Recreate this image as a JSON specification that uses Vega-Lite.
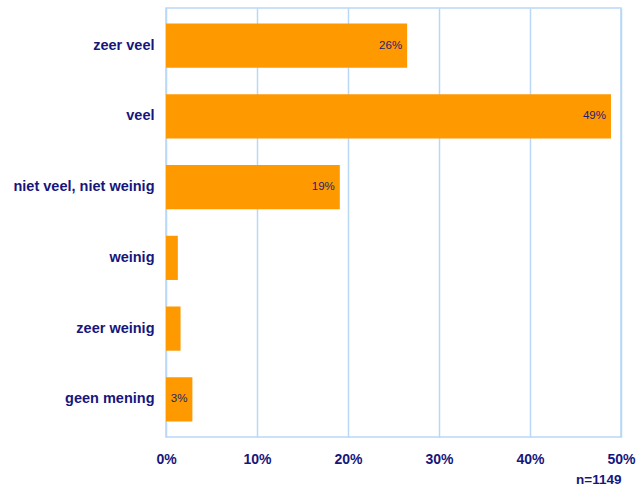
{
  "$schema": "https://vega.github.io/schema/vega-lite/v6.json",
  "autosize": "none",
  "width": 455,
  "height": 429,
  "padding": {"left": 166, "top": 8, "right": 16, "bottom": 49},
  "background": "white",
  "config": {
    "font": "Liberation Sans",
    "view": {"stroke": "#b9d8f7", "strokeWidth": 1.5}
  },
  "data": {
    "values": [
      {"cat": "zeer veel", "value": 0.265, "label": "26%"},
      {"cat": "veel", "value": 0.489, "label": "49%"},
      {"cat": "niet veel, niet weinig", "value": 0.191, "label": "19%"},
      {"cat": "weinig", "value": 0.013, "label": ""},
      {"cat": "zeer weinig", "value": 0.016, "label": ""},
      {"cat": "geen mening", "value": 0.029, "label": "3%"}
    ]
  },
  "encoding": {
    "y": {
      "field": "cat",
      "type": "nominal",
      "sort": null,
      "scale": {"paddingInner": 0.375, "paddingOuter": 0.22},
      "axis": {
        "title": null,
        "ticks": false,
        "domain": false,
        "grid": false,
        "labelFont": "Liberation Sans",
        "labelFontSize": 14.5,
        "labelFontWeight": "bold",
        "labelColor": "#16167c",
        "labelPadding": 12
      }
    },
    "x": {
      "field": "value",
      "type": "quantitative",
      "scale": {"domain": [0, 0.5], "nice": false},
      "axis": {
        "values": [0, 0.1, 0.2, 0.3, 0.4, 0.5],
        "format": ".0%",
        "title": "n=1149",
        "titleAnchor": "end",
        "titleAlign": "right",
        "titleFont": "Liberation Sans",
        "titleFontSize": 13.5,
        "titleFontWeight": "bold",
        "titleColor": "#16167c",
        "titlePadding": 6,
        "ticks": false,
        "tickSize": 0,
        "domain": false,
        "grid": true,
        "gridColor": "#b9d8f7",
        "gridWidth": 1.5,
        "labelFont": "Liberation Sans",
        "labelFontSize": 14,
        "labelFontWeight": "bold",
        "labelColor": "#16167c",
        "labelPadding": 15,
        "labelFlush": false
      }
    }
  },
  "layer": [
    {"mark": {"type": "bar", "color": "#ff9900"}},
    {
      "mark": {"type": "text", "align": "right", "dx": -5, "baseline": "middle", "fontSize": 11.5, "color": "#1f1f70", "font": "Liberation Sans"},
      "encoding": {"text": {"field": "label"}}
    }
  ]
}
